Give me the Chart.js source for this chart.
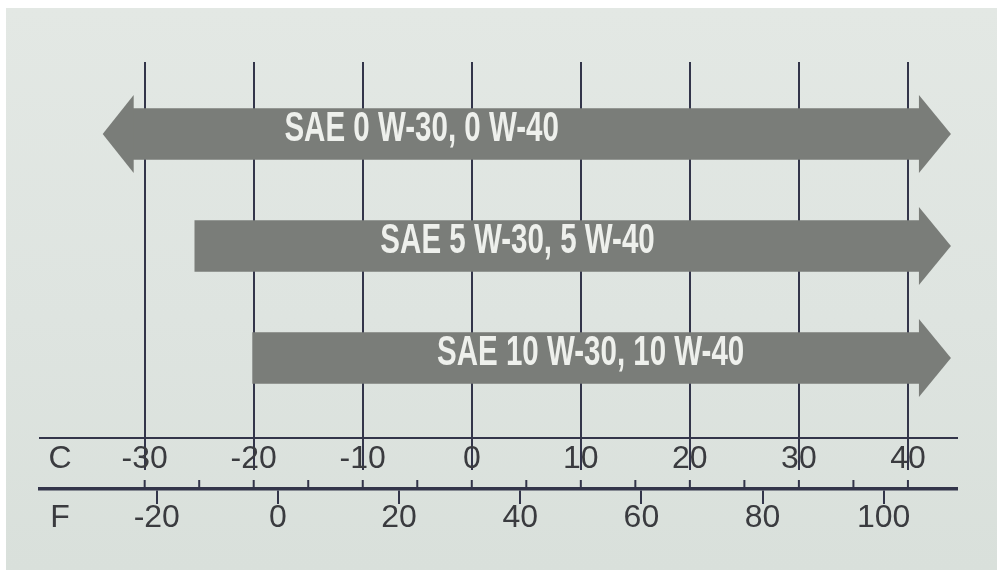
<!DOCTYPE html>
<html>
<head>
<meta charset="utf-8">
<script src="https://cdn.jsdelivr.net/npm/chart.js@4.4.0/dist/chart.umd.min.js"></script>
<style>
    html, body { margin: 0; padding: 0; background: #ffffff; }
    #wrap {
        position: absolute; left: 6px; top: 8px; width: 991px; height: 562px;
        background: linear-gradient(180deg, #e3e8e4 0%, #dee4e0 55%, #d9e0db 100%);
    }
</style>
</head>
<body>
<div id="wrap"><canvas id="oilChart"></canvas></div>
<script>
// oil grades and the ambient temperature range (deg C) each one covers
const grades = ['SAE 0 W-30, 0 W-40', 'SAE 5 W-30, 5 W-40', 'SAE 10 W-30, 10 W-40'];
const lowTemp = [-31.1, -25.4, -20.1];
const highTemp = [41.1, 41.1, 41.1];
const arrowLow = [true, false, false];   // open ended on the cold side
const arrowHigh = [true, true, true];    // open ended on the hot side

// axis ticks
const celsiusTicks = [-30, -20, -10, 0, 10, 20, 30, 40];
const celsiusMinor = [-30, -25, -20, -15, -10, -5, 0, 5, 10, 15, 20, 25, 30, 35, 40];
const fahrenheitTicks = [-20, 0, 20, 40, 60, 80, 100];

const cMin = -39.6;
const cMax = 44.5;
const toF = c => c * 9 / 5 + 32;

const barGray = '#7a7d79';
const lineColor = '#33354a';
const textGray = '#3a3b3f';
const sans = '"Liberation Sans", Arial, sans-serif';

// arrow heads, bar captions, the C / F letters and the small 5 degree ticks
const arrowPlugin = {
    id: 'arrows',
    afterDatasetsDraw(chart, args, opts) {
        const ctx = chart.ctx;
        const xs = chart.scales.x;
        const meta = chart.getDatasetMeta(0);
        ctx.save();
        ctx.fillStyle = barGray;
        meta.data.forEach((bar, i) => {
            const left = Math.min(bar.x, bar.base);
            const right = Math.max(bar.x, bar.base);
            if (arrowHigh[i]) {
                ctx.beginPath();
                ctx.moveTo(right - 1, bar.y - 39);
                ctx.lineTo(right + 31, bar.y);
                ctx.lineTo(right - 1, bar.y + 39);
                ctx.closePath();
                ctx.fill();
            }
            if (arrowLow[i]) {
                ctx.beginPath();
                ctx.moveTo(left + 1, bar.y - 39);
                ctx.lineTo(left - 30, bar.y);
                ctx.lineTo(left + 1, bar.y + 39);
                ctx.closePath();
                ctx.fill();
            }
        });

        // captions are a condensed bold face, so squeeze a normal one
        ctx.fillStyle = '#eef0ec';
        ctx.font = 'bold 36px ' + sans;
        ctx.textAlign = 'center';
        ctx.textBaseline = 'middle';
        meta.data.forEach((bar, i) => {
            ctx.save();
            ctx.translate(xs.getPixelForValue(opts.labelAt[i]), bar.y - 5);
            ctx.scale(0.82, 1.17);
            ctx.fillText(grades[i], 0, 0);
            ctx.restore();
        });
        ctx.restore();
    },
    afterDraw(chart) {
        const ctx = chart.ctx;
        const cs = chart.scales.x;
        const fs = chart.scales.f;
        ctx.save();
        ctx.strokeStyle = lineColor;
        ctx.lineWidth = 2;
        celsiusMinor.forEach(v => {
            const px = cs.getPixelForValue(v);
            ctx.beginPath();
            ctx.moveTo(px, fs.top - 9);
            ctx.lineTo(px, fs.top);
            ctx.stroke();
        });
        ctx.fillStyle = textGray;
        ctx.font = '32px ' + sans;
        ctx.textAlign = 'center';
        ctx.textBaseline = 'middle';
        ctx.fillText('C', cs.left + 20, cs.top + 21);
        ctx.fillText('F', cs.left + 20, fs.top + 29);
        ctx.restore();
    }
};

const ctx = document.getElementById('oilChart').getContext('2d');
const chart = new Chart(ctx, {
    type: 'bar',
    data: {
        datasets: [{
            label: 'Viscosity grade',
            data: grades.map((g, i) => ({ x: [lowTemp[i], highTemp[i]], y: i })),
            backgroundColor: barGray,
            borderWidth: 0,
            barThickness: 51
        }]
    },
    options: {
        indexAxis: 'y',
        responsive: true,
        maintainAspectRatio: false,
        animation: false,
        layout: {
            padding: { left: 34, right: 40, top: 54, bottom: 31 }
        },
        scales: {
            x: {
                type: 'linear',
                position: 'bottom',
                weight: 0,
                min: cMin,
                max: cMax,
                afterBuildTicks: s => { s.ticks = celsiusTicks.map(v => ({ value: v })); },
                afterFit: s => { s.height = 51; },
                grid: {
                    color: lineColor,
                    lineWidth: 2,
                    tickLength: 32
                },
                border: { color: lineColor, width: 2 },
                ticks: {
                    maxRotation: 0,
                    padding: -27,
                    color: textGray,
                    font: { family: sans, size: 32, lineHeight: 1 }
                }
            },
            f: {
                type: 'linear',
                axis: 'x',
                position: 'bottom',
                weight: 1,
                min: toF(cMin),
                max: toF(cMax),
                afterBuildTicks: s => { s.ticks = fahrenheitTicks.map(v => ({ value: v })); },
                afterFit: s => { s.height = 50; },
                grid: {
                    drawOnChartArea: false,
                    color: lineColor,
                    lineWidth: 2,
                    tickLength: 15
                },
                border: { color: lineColor, width: 3.5 },
                ticks: {
                    maxRotation: 0,
                    padding: -2,
                    color: textGray,
                    font: { family: sans, size: 32, lineHeight: 1 }
                }
            },
            y: {
                type: 'linear',
                display: false,
                reverse: true,
                offset: false,
                grid: { offset: false },
                min: -0.643,
                max: 2.714
            }
        },
        plugins: {
            legend: { display: false },
            tooltip: { enabled: false },
            arrows: { labelAt: [-4.6, 4.2, 10.9] }
        }
    },
    plugins: [arrowPlugin]
});
</script>
</body>
</html>
